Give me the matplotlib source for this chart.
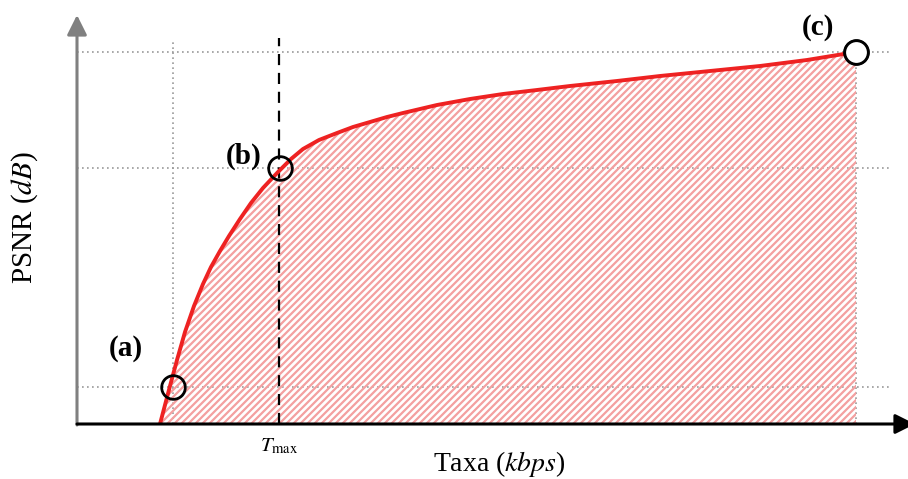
import numpy as np
import matplotlib.pyplot as plt
from matplotlib.collections import LineCollection
from matplotlib.patches import Polygon

plt.rcParams['font.family'] = ['Liberation Serif', 'DejaVu Serif']
plt.rcParams['mathtext.fontset'] = 'stix'

# curve (arbitrary units: rate, psnr)
taxa = [83, 88, 93, 100, 108, 117, 126, 134, 143, 152, 163, 174, 186, 201,
        214, 226, 242, 260, 276, 293, 310, 326, 343, 360, 393, 426, 460,
        493, 540, 583, 633, 683, 730, 779]
psnr = [0, 19, 38, 64, 92, 118, 140, 157, 173, 188, 205, 221, 236, 252,
        265, 275, 284, 291, 297, 302, 307, 311, 315, 319, 325, 330, 334,
        338, 343, 348, 353, 358, 364, 372]

# labelled operating points
pt_names = ['(a)', '(b)', '(c)']
pt_taxa = [96, 203, 779]
pt_psnr = [37, 256, 372]
t_max = 202

fig = plt.figure(figsize=(9.08, 4.79), dpi=100)
ax = fig.add_axes([0, 0, 1, 1])
ax.set_xlim(-77, 831)
ax.set_ylim(-55, 424)
ax.axis('off')

# dotted guide lines
grid = dict(color='#999999', lw=1.2, ls=(0, (1, 2)), zorder=1)
for y in pt_psnr:
    ax.plot([0, 813], [y, y], **grid)
ax.plot([pt_taxa[0]] * 2, [0, 382], **grid)
ax.plot([pt_taxa[2]] * 2, [0, 372], **grid)

# hatched area under the curve (diagonal stripes clipped to the area)
area = Polygon(np.column_stack([taxa + [taxa[-1], taxa[0]], psnr + [0, 0]]),
               closed=True, facecolor='none', edgecolor='none')
ax.add_patch(area)
offs = np.arange(-400, 800, 7.0)
segs = [[(c, 0), (c + 450, 450)] for c in offs]
stripes = LineCollection(segs, colors='#f4a0a0', linewidths=1.6, zorder=2)
ax.add_collection(stripes)
stripes.set_clip_path(area)

ax.plot(taxa, psnr, color='#ee2222', lw=2.8, zorder=4, solid_capstyle='butt')

# T_max
ax.plot([t_max, t_max], [0, 386], color='black', lw=1.6, ls=(0, (5, 3.5)), zorder=3)
ax.text(t_max, -22, r'$T_{\mathrm{max}}$', ha='center', va='center', fontsize=15)

# axes with arrows
ax.annotate('', xy=(0, 409), xytext=(0, -1), annotation_clip=False,
            arrowprops=dict(arrowstyle='-|>,head_length=0.6,head_width=0.3',
                            color='#808080', lw=2.2, mutation_scale=20, shrinkA=0, shrinkB=0))
ax.annotate('', xy=(838, 0), xytext=(0, 0), annotation_clip=False,
            arrowprops=dict(arrowstyle='-|>,head_length=0.6,head_width=0.3',
                            color='black', lw=2.2, mutation_scale=20, shrinkA=0, shrinkB=0),
            zorder=5)

# operating points
ax.plot(pt_taxa, pt_psnr, 'o', ms=17, mfc='none', mec='black', mew=2, zorder=6)
ax.plot(pt_taxa[2], pt_psnr[2], 'o', ms=17, mfc='white', mec='black', mew=2, zorder=6)
offsets = [(-47, 39), (-36, 12), (-38, 25)]
for name, x, y, (dx, dy) in zip(pt_names, pt_taxa, pt_psnr, offsets):
    ax.text(x + dx, y + dy, name, ha='center', va='center', fontsize=21, fontweight='bold')

ax.text(422, -40, 'Taxa ($kbps$)', ha='center', va='center', fontsize=20)
ax.text(-52, 206, 'PSNR ($dB$)', ha='center', va='center', fontsize=21, rotation=90)

fig.savefig('out.png', dpi=100)
